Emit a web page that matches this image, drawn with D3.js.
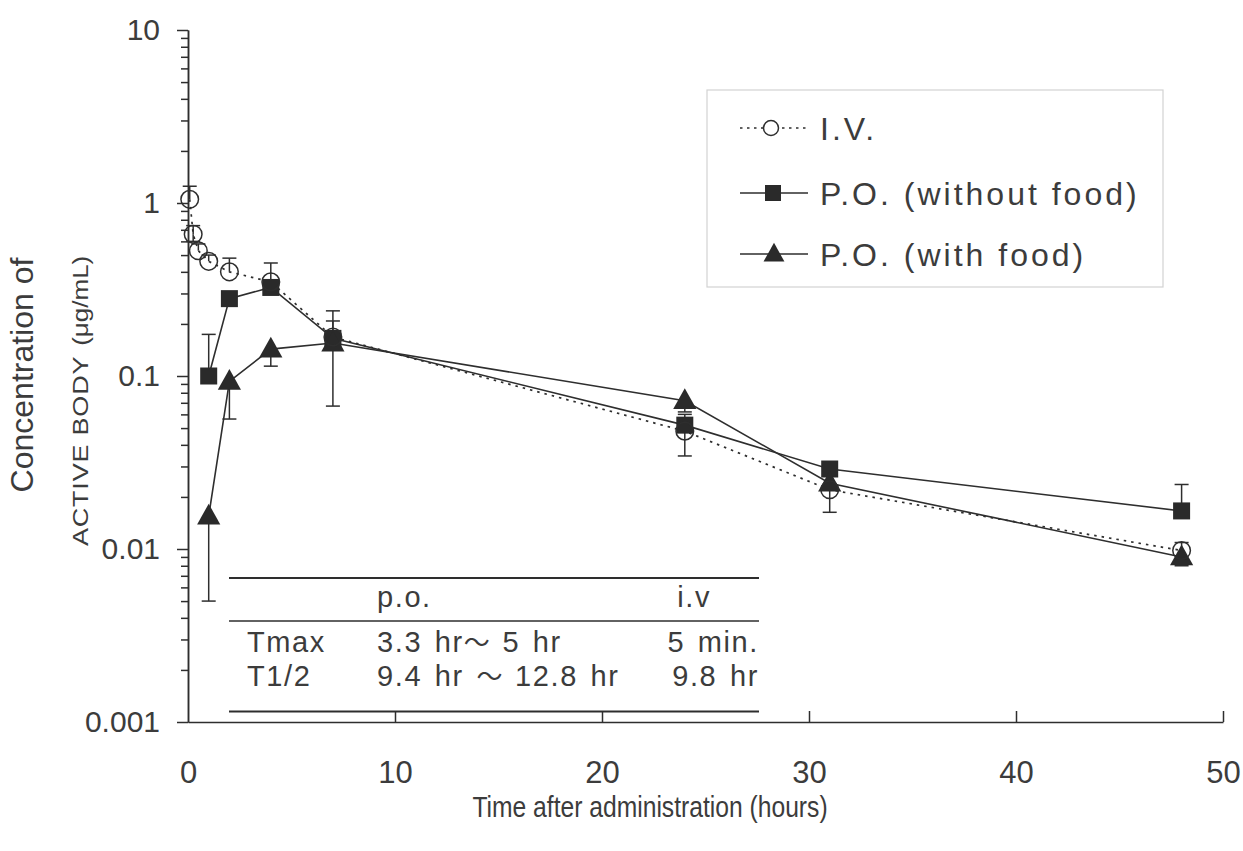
<!DOCTYPE html>
<html>
<head>
<meta charset="utf-8">
<script src="https://cdn.jsdelivr.net/npm/d3@7"></script>
<style>
  html, body { margin: 0; padding: 0; background: #ffffff; }
  svg { display: block; }
  text { font-family: "Liberation Sans", Arial, Helvetica, sans-serif; fill: #3c3c3c; }
</style>
</head>
<body>
<svg id="chart" width="1243" height="851"></svg>
<script>
// ---------------- data ----------------
const ivTime   = [0.083, 0.25, 0.5, 1, 2, 4, 7, 24, 31, 48];
const ivConc   = [1.05, 0.66, 0.53, 0.46, 0.40, 0.35, 0.168, 0.048, 0.022, 0.0098];
const ivHi     = [1.25, 0.74, 0.58, 0.50, 0.48, null, 0.238, null, null, 0.0109];
const ivLo     = [null, 0.60, null, null, null, null, null, null, 0.0163, null];

const poTime   = [1, 2, 4, 7, 24, 31, 48];
const poNoFood = [0.10, 0.28, 0.325, 0.165, 0.052, 0.029, 0.0166];
const poNoHi   = [0.174, null, 0.45, 0.208, 0.060, null, 0.0236];
const poNoLo   = [null, null, null, null, 0.0345, null, null];

const poFood   = [0.0155, 0.093, 0.143, 0.155, 0.072, 0.024, 0.009];
const poFdHi   = [null, null, null, null, null, null, null];
const poFdLo   = [0.005, 0.0564, 0.114, 0.067, 0.062, null, 0.0080];

const xTicks = [0, 10, 20, 30, 40, 50];
const yMajor = [0.001, 0.01, 0.1, 1, 10];
const yMajorLabels = ["0.001", "0.01", "0.1", "1", "10"];

const legendLabels = ["I.V.", "P.O. (without food)", "P.O. (with food)"];

const tableHeader = ["", "p.o.", "i.v"];
const tableRows = [
  ["Tmax", ["3.3 hr", "\uFF5E", " 5 hr"], "5 min."],
  ["T1/2", ["9.4 hr ", "\uFF5E", " 12.8 hr"], "9.8 hr"]
];

const xTitle = "Time after administration (hours)";
const yTitle1 = "Concentration of";
const yTitle2a = "ACTIVE BODY";
const yTitle2b = "(\u03BCg/mL)";

// ---------------- layout ----------------
const svg = d3.select("#chart");
const ink = "#2e2e2e";
const FONT = "'Liberation Sans', Arial, Helvetica, sans-serif";
const x = d3.scaleLinear().domain([0, 50]).range([188, 1223]);
const y = d3.scaleLog().domain([0.001, 10]).range([722, 30]);

// minor ticks
const yMinor = [];
yMajor.slice(0, -1).forEach(d => { for (let k = 2; k <= 9; k++) yMinor.push(d * k); });

const gyMinor = svg.append("g").attr("transform", "translate(188,0)")
  .call(d3.axisLeft(y).tickValues(yMinor).tickSize(7).tickSizeOuter(0).tickFormat(""));
const gy = svg.append("g").attr("transform", "translate(188,0)")
  .call(d3.axisLeft(y).tickValues(yMajor).tickSize(11).tickSizeOuter(0).tickPadding(17)
    .tickFormat((d, i) => yMajorLabels[i]));
const gx = svg.append("g").attr("transform", "translate(0,722)")
  .call(d3.axisBottom(x).tickValues(xTicks).tickSize(-11).tickSizeOuter(0).tickPadding(39)
    .tickFormat(d3.format("d")));

[gyMinor, gy, gx].forEach(g => {
  g.selectAll("path, line").attr("stroke", ink).attr("stroke-width", 1.5);
  g.selectAll("text").attr("fill", "#3c3c3c").attr("font-family", FONT);
});
gy.selectAll("text").attr("font-size", 30);
gx.selectAll("text").attr("font-size", 31);
gx.selectAll(".tick").filter(d => d === 0).select("line").remove();

// axis titles
svg.append("text").attr("transform", "translate(650,817) scale(0.85,1)")
  .attr("text-anchor", "middle").attr("font-size", 29).text(xTitle);
svg.append("text").attr("transform", "translate(33,375) rotate(-90)")
  .attr("text-anchor", "middle").attr("font-size", 32).text(yTitle1);
const yt2 = svg.append("text").attr("transform", "translate(88,546) scale(0.82,1) rotate(-90)")
  .attr("text-anchor", "start");
yt2.append("tspan").attr("font-size", 27).attr("letter-spacing", 0.8).text(yTitle2a);
yt2.append("tspan").attr("dx", 10).attr("font-size", 26).text(yTitle2b);

// ---------------- error bars ----------------
function errorBars(times, vals, hi, lo) {
  const g = svg.append("g").attr("stroke", ink).attr("stroke-width", 1.5);
  times.forEach((t, i) => {
    const cx = x(t);
    [hi[i], lo[i]].forEach(b => {
      if (b == null) return;
      g.append("line").attr("x1", cx).attr("x2", cx).attr("y1", y(vals[i])).attr("y2", y(b));
      g.append("line").attr("x1", cx - 7).attr("x2", cx + 7).attr("y1", y(b)).attr("y2", y(b));
    });
  });
}
errorBars(ivTime, ivConc, ivHi, ivLo);
errorBars(poTime, poNoFood, poNoHi, poNoLo);
errorBars(poTime, poFood, poFdHi, poFdLo);

// ---------------- lines ----------------
const line = d3.line().x(d => x(d[0])).y(d => y(d[1]));
svg.append("path").datum(ivTime.map((t, i) => [t, ivConc[i]]))
  .attr("d", line).attr("fill", "none").attr("stroke", ink).attr("stroke-width", 1.7)
  .attr("stroke-dasharray", "2.5,5");
svg.append("path").datum(poTime.map((t, i) => [t, poNoFood[i]]))
  .attr("d", line).attr("fill", "none").attr("stroke", ink).attr("stroke-width", 1.6);
svg.append("path").datum(poTime.map((t, i) => [t, poFood[i]]))
  .attr("d", line).attr("fill", "none").attr("stroke", ink).attr("stroke-width", 1.6);

// ---------------- markers ----------------
const triPath = s => `M0,${-s * 0.62}L${s * 0.58},${s * 0.42}L${-s * 0.58},${s * 0.42}Z`;
svg.append("g").selectAll("rect").data(poTime.map((t, i) => [t, poNoFood[i]])).join("rect")
  .attr("x", d => x(d[0]) - 8.5).attr("y", d => y(d[1]) - 8.5).attr("width", 17).attr("height", 17)
  .attr("fill", "#2a2a2a");
svg.append("g").selectAll("path").data(poTime.map((t, i) => [t, poFood[i]])).join("path")
  .attr("transform", d => `translate(${x(d[0])},${y(d[1])})`).attr("d", triPath(20))
  .attr("fill", "#2a2a2a");
svg.append("g").selectAll("circle").data(ivTime.map((t, i) => [t, ivConc[i]])).join("circle")
  .attr("cx", d => x(d[0])).attr("cy", d => y(d[1])).attr("r", 8.8)
  .attr("fill", "none").attr("stroke", ink).attr("stroke-width", 1.5);

// ---------------- legend ----------------
const lg = svg.append("g");
lg.append("rect").attr("x", 707).attr("y", 90).attr("width", 456).attr("height", 197)
  .attr("fill", "#ffffff").attr("stroke", "#d2d2d2").attr("stroke-width", 1.2);
const legY = [128, 193, 254];
const textY = [140, 205, 266];
legendLabels.forEach((lab, i) => {
  const row = lg.append("g");
  row.append("line").attr("x1", 740).attr("x2", 808).attr("y1", legY[i]).attr("y2", legY[i])
    .attr("stroke", ink).attr("stroke-width", 1.5)
    .attr("stroke-dasharray", i === 0 ? "2.5,4.5" : null);
  if (i === 0) {
    row.append("circle").attr("cx", 771).attr("cy", legY[i]).attr("r", 7.5)
      .attr("fill", "#ffffff").attr("stroke", ink).attr("stroke-width", 1.5);
  } else if (i === 1) {
    row.append("rect").attr("x", 765).attr("y", legY[i] - 8).attr("width", 16).attr("height", 16)
      .attr("fill", "#2a2a2a");
  } else {
    row.append("path").attr("transform", `translate(774,${legY[i]})`).attr("d", triPath(18))
      .attr("fill", "#2a2a2a");
  }
  row.append("text").attr("x", 820).attr("y", textY[i]).attr("font-size", 32)
    .attr("letter-spacing", 3).text(lab);
});

// ---------------- table ----------------
const tb = svg.append("g");
[578, 621, 711.5].forEach((ly, i) => {
  tb.append("line").attr("x1", 229).attr("x2", 759).attr("y1", ly).attr("y2", ly)
    .attr("stroke", ink).attr("stroke-width", i === 1 ? 1.3 : 1.8);
});
const colX = [247, 377, 759];
const rowY = [607, 652, 686];
[tableHeader].concat(tableRows).forEach((r, ri) => {
  r.forEach((cell, ci) => {
    if (!cell) return;
    const t = tb.append("text").attr("x", ri === 0 && ci === 2 ? 711 : colX[ci]).attr("y", rowY[ri])
      .attr("font-size", 29).attr("letter-spacing", 1.6).attr("word-spacing", 3)
      .attr("text-anchor", ci === 2 ? "end" : "start");
    if (Array.isArray(cell)) {
      t.append("tspan").text(cell[0]);
      t.append("tspan").attr("font-family", "'Noto Sans CJK JP', sans-serif")
        .attr("font-size", 26).attr("letter-spacing", 0).text(cell[1]);
      t.append("tspan").text(cell[2]);
    } else {
      t.text(cell);
    }
  });
});
</script>
</body>
</html>
